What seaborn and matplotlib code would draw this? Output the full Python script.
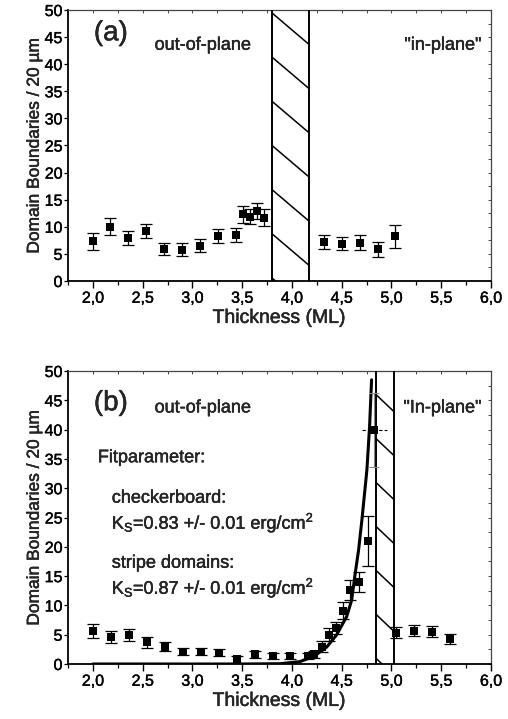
import numpy as np
import pandas as pd
import matplotlib
matplotlib.use("Agg")
import matplotlib.pyplot as plt
import matplotlib.patheffects as pe
from matplotlib.ticker import MultipleLocator, FuncFormatter
from matplotlib.patches import Rectangle
import seaborn as sns

# ---------------- data ----------------
# panel (a)
a_x = [2.0, 2.174, 2.355, 2.532, 2.716, 2.896, 3.077, 3.254, 3.435, 3.505, 3.575, 3.645, 3.719,
       4.324, 4.505, 4.686, 4.863, 5.037]
a_y = [7.3, 10.0, 8.0, 9.25, 5.9, 5.75, 6.5, 8.25, 8.45, 12.3, 11.9, 12.9, 11.7,
       7.2, 6.9, 7.1, 5.85, 8.25]
a_err = [1.6, 1.6, 1.3, 1.35, 1.15, 1.2, 1.2, 1.3, 1.3, 1.6, 1.4, 1.5, 1.5,
         1.25, 1.25, 1.3, 1.4, 2.1]
a_band = [3.80, 4.17]

# panel (b)
b_x = [2.0, 2.187, 2.365, 2.545, 2.726, 2.906, 3.084, 3.264, 3.445, 3.625, 3.806, 3.983,
       4.164, 4.224, 4.304, 4.375, 4.445, 4.512, 4.585, 4.669, 4.769,
       5.047, 5.227, 5.408, 5.589]
b_y = [5.6, 4.6, 4.95, 3.7, 2.95, 2.1, 2.1, 1.9, 0.8, 1.65, 1.3, 1.3,
       1.35, 1.7, 2.95, 5.0, 6.1, 9.1, 12.6, 14.0, 21.0,
       5.35, 5.7, 5.5, 4.2]
b_err = [1.15, 1.05, 1.05, 0.95, 0.75, 0.6, 0.6, 0.6, 0.65, 0.6, 0.5, 0.5,
         0.5, 0.6, 0.9, 1.1, 1.05, 1.4, 1.65, 1.7, 4.2,
         0.95, 0.9, 0.9, 0.85]
# special point with horizontal (dashed) error bar
b_sp_x = [4.826]
b_sp_y = [40.0]
b_sp_yerr = [6.3]
b_sp_xerr = [0.125]
b_band = [4.843, 5.025]

# fit curve
fit_x = [2.0, 3.0, 3.5, 3.88, 4.08, 4.22, 4.35, 4.45, 4.55, 4.60, 4.636, 4.67, 4.703, 4.753, 4.78, 4.80]
fit_y = [0.0, 0.0, 0.0, 0.05, 0.4, 1.3, 2.9, 5.0, 8.1, 10.9, 15.5, 19.5, 24.6, 33.1, 40.5, 48.5]

x_ticks = [2.0, 2.5, 3.0, 3.5, 4.0, 4.5, 5.0, 5.5, 6.0]
y_ticks = [0, 5, 10, 15, 20, 25, 30, 35, 40, 45, 50]

# ---------------- style ----------------
sns.set_theme(style="ticks")
plt.rcParams['font.family'] = ['Liberation Sans', 'DejaVu Sans']
plt.rcParams['mathtext.fontset'] = 'custom'
plt.rcParams['mathtext.rm'] = 'Liberation Sans'

THICK = [pe.withStroke(linewidth=0.3, foreground='black')]

fig = plt.figure(figsize=(5.08, 7.19), dpi=100)
ax_a = fig.add_axes([68 / 508, 1 - 281 / 719, (491 - 68) / 508, (281 - 10) / 719])
ax_b = fig.add_axes([68 / 508, 1 - 664 / 719, (491 - 68) / 508, (664 - 371) / 719])

comma = FuncFormatter(lambda v, p: f"{v:.1f}".replace(".", ","))


def style_axes(ax):
    ax.set_xlim(1.75, 6.0)
    ax.set_ylim(0, 50)
    ax.set_xticks(x_ticks)
    ax.xaxis.set_major_formatter(comma)
    ax.xaxis.set_minor_locator(MultipleLocator(0.25))
    ax.set_yticks(y_ticks)
    ax.yaxis.set_major_formatter(FuncFormatter(lambda v, p: f"{int(v)}"))
    ax.tick_params(axis='x', which='major', direction='out', length=5, width=1.0,
                   labelsize=11.5, pad=2, colors='black')
    ax.tick_params(axis='x', which='minor', direction='out', length=3, width=0.9, colors='black')
    ax.tick_params(axis='y', which='major', direction='out', length=3, width=0.9,
                   labelsize=11.5, pad=1, colors='black')
    for lab in ax.get_xticklabels() + ax.get_yticklabels():
        lab.set_path_effects(THICK)
    for s in ['left', 'bottom']:
        ax.spines[s].set_linewidth(1.3)
        ax.spines[s].set_color('black')
    for s in ['top', 'right']:
        ax.spines[s].set_linewidth(0.9)
        ax.spines[s].set_color('#444444')
        ax.spines[s].set_visible(True)
    # mirrored inward ticks (top / right)
    sec_x = ax.secondary_xaxis('top')
    sec_x.set_xticks(np.arange(2.0, 6.01, 0.25))
    sec_x.tick_params(direction='in', length=2, width=0.7, labeltop=False, colors='#444444')
    sec_x.spines['top'].set_visible(False)
    sec_y = ax.secondary_yaxis('right')
    sec_y.set_yticks(np.arange(0, 50.1, 2.5))
    sec_y.tick_params(direction='in', length=2, width=0.7, labelright=False, colors='#444444')
    sec_y.spines['right'].set_visible(False)
    ax.grid(False)
    ax.set_facecolor('white')


def labels(ax):
    ax.set_xlabel("Thickness (ML)", fontsize=14, labelpad=3, path_effects=THICK)
    ax.set_ylabel("Domain Boundaries / 20 µm", fontsize=12.5, labelpad=2, path_effects=THICK)


def hatch_band(ax, x0, x1, y_start, step, pix_slope=0.9):
    rect = Rectangle((x0, 0), x1 - x0, 50, facecolor='white', edgecolor='none', zorder=1)
    ax.add_patch(rect)
    ax.axvline(x0, color='black', lw=1.4, zorder=3)
    ax.axvline(x1, color='black', lw=1.4, zorder=3)
    bb = ax.get_position()
    fw, fh = fig.get_size_inches() * fig.dpi
    px_per_x = bb.width * fw / (6.0 - 1.75)
    px_per_y = bb.height * fh / 50.0
    drop = pix_slope * (x1 - x0) * px_per_x / px_per_y
    y = y_start - step * 2
    while y < 50 + drop + step:
        ln, = ax.plot([x0, x1], [y, y - drop], color='black', lw=1.1, zorder=2)
        ln.set_clip_path(rect)
        y += step


def txt(ax, x, y, s, size=13):
    ax.text(x, y, s, fontsize=size, va='center', ha='left', path_effects=THICK)


style_axes(ax_a)
style_axes(ax_b)

# panel (a)
hatch_band(ax_a, a_band[0], a_band[1], 0.55, 8.15, 0.85)
df_a = pd.DataFrame({"x": a_x, "y": a_y, "e": a_err})
ax_a.errorbar(df_a.x, df_a.y, yerr=df_a.e, fmt='none', ecolor='black', elinewidth=0.9,
              capsize=4.2, capthick=0.9, zorder=4)
sns.scatterplot(data=df_a, x="x", y="y", ax=ax_a, marker='s', s=32, color='black',
                edgecolor='black', linewidth=0, zorder=5, legend=False)
labels(ax_a)

txt(ax_a, 2.01, 45.7, "(a)", 20)
txt(ax_a, 2.62, 43.5, "out-of-plane")
txt(ax_a, 5.13, 43.5, '"in-plane"')

# panel (b)
hatch_band(ax_b, b_band[0], b_band[1], 1.0, 7.5, 0.95)
df_fit = pd.DataFrame({"x": fit_x, "y": fit_y})
sns.lineplot(data=df_fit, x="x", y="y", ax=ax_b, color='black', lw=2.2, sort=False,
             estimator=None, zorder=4)
df_b = pd.DataFrame({"x": b_x, "y": b_y, "e": b_err})
ax_b.errorbar(df_b.x, df_b.y, yerr=df_b.e, fmt='none', ecolor='black', elinewidth=0.9,
              capsize=4.2, capthick=0.9, zorder=4)
ax_b.errorbar(b_sp_x, b_sp_y, yerr=b_sp_yerr, fmt='none', ecolor='#888888',
              elinewidth=0.8, capsize=3.5, capthick=0.8, zorder=4)
eb2 = ax_b.errorbar(b_sp_x, b_sp_y, xerr=b_sp_xerr, fmt='none', ecolor='black',
                    elinewidth=0.8, capsize=0, zorder=4)
eb2[2][0].set_linestyle((0, (3, 2)))
df_sp = pd.DataFrame({"x": b_sp_x, "y": b_sp_y})
sns.scatterplot(data=pd.concat([df_b[["x", "y"]], df_sp]), x="x", y="y", ax=ax_b,
                marker='s', s=32, color='black', edgecolor='black', linewidth=0,
                zorder=5, legend=False)
labels(ax_b)

txt(ax_b, 2.01, 44.5, "(b)", 20)
txt(ax_b, 2.62, 43.7, "out-of-plane")
txt(ax_b, 5.12, 43.7, '"In-plane"')
txt(ax_b, 2.05, 35.2, "Fitparameter:")
txt(ax_b, 2.19, 28.3, "checkerboard:")
txt(ax_b, 2.19, 24.1, r"K$_\mathrm{S}$=0.83 +/- 0.01 erg/cm$^\mathrm{2}$")
txt(ax_b, 2.19, 17.2, "stripe domains:")
txt(ax_b, 2.19, 13.0, r"K$_\mathrm{S}$=0.87 +/- 0.01 erg/cm$^\mathrm{2}$")

fig.savefig("out.png", dpi=100, facecolor='white')
